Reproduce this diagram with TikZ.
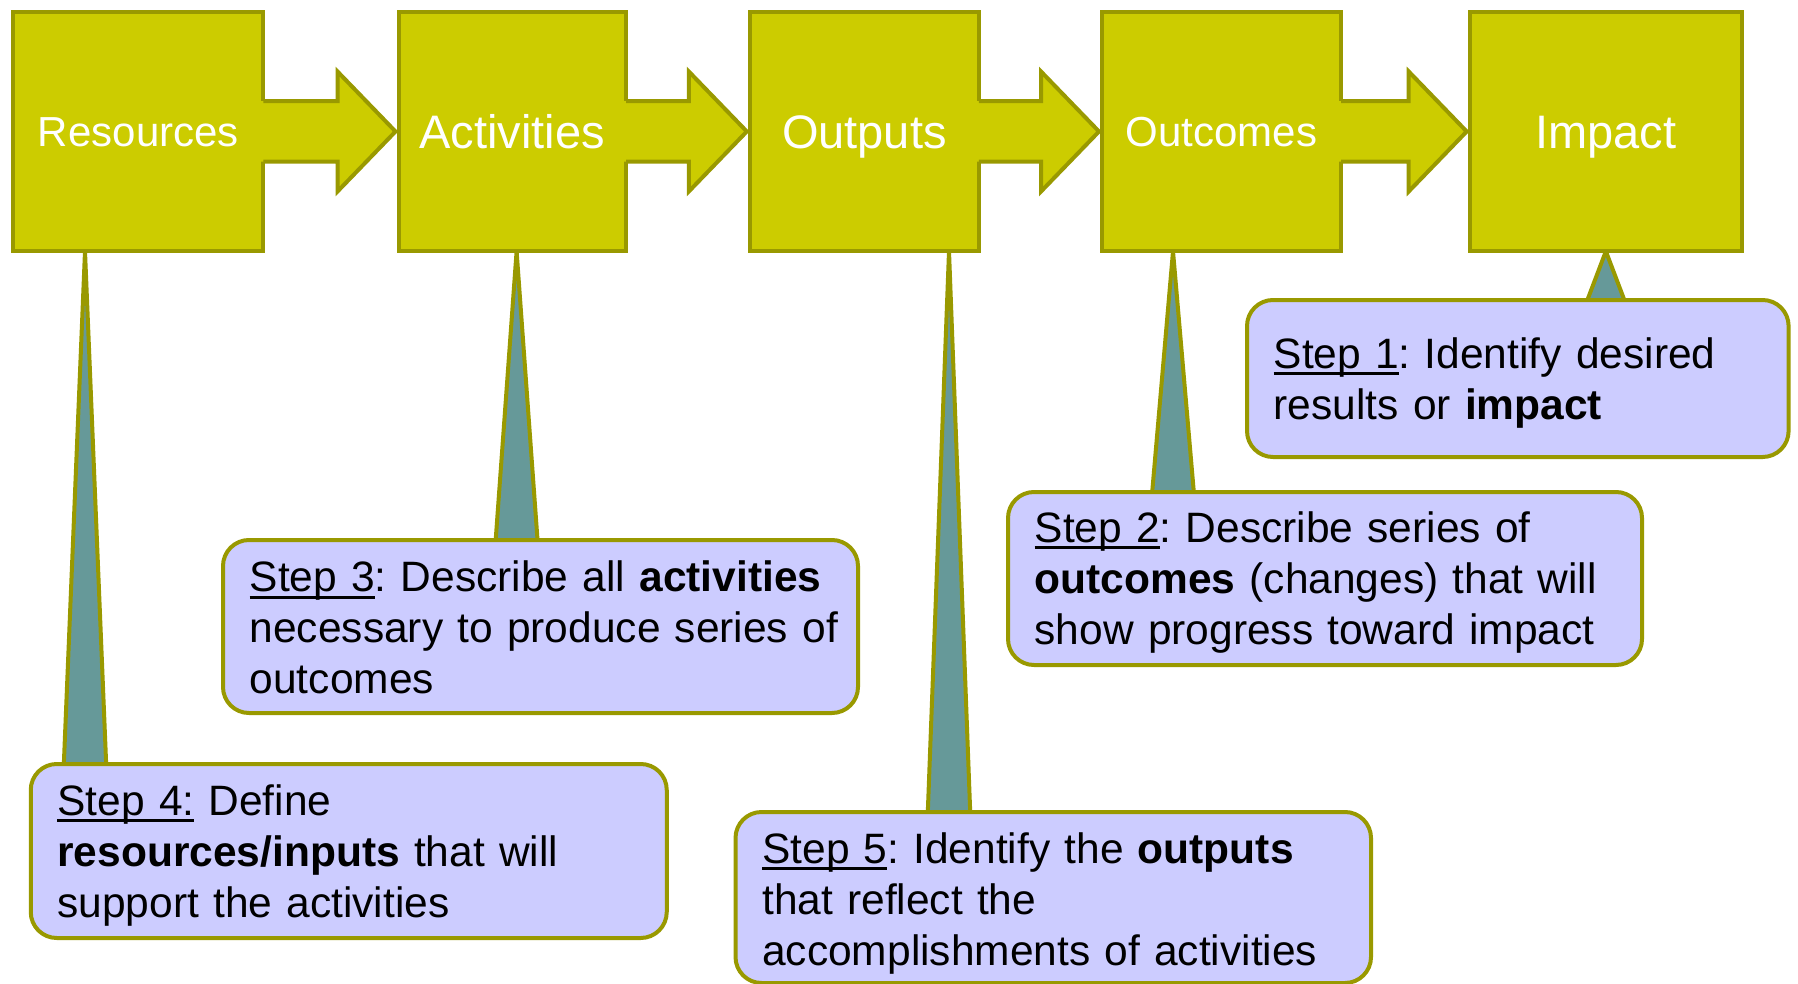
\documentclass[tikz,border=0pt]{standalone}
\usepackage{fontspec}
\setmainfont{Liberation Sans}
\usetikzlibrary{backgrounds}
\definecolor{boxfill}{HTML}{CCCC00}
\definecolor{oline}{HTML}{999900}
\definecolor{callfill}{HTML}{CCCCFF}
\definecolor{ptrfill}{HTML}{669999}
\newcommand\ulx[1]{\setbox0=\hbox{#1}\rlap{\rule[-7pt]{\wd0}{3pt}}\box0\relax}
\begin{document}
\begin{tikzpicture}[x=1pt,y=-1pt,
  stagebox/.style={draw=oline, fill=boxfill, line width=4pt, outer sep=0pt, inner sep=0pt, text=white, text depth=0pt, minimum height=239.5pt},
  bigl/.style={font=\fontsize{47}{56}\selectfont, text height=33.6pt},
  smalll/.style={font=\fontsize{42}{50}\selectfont, text height=30pt},
  callbox/.style={draw=oline, fill=callfill, line width=4pt, rounded corners=26pt, outer sep=0pt, inner sep=0pt},
  calltext/.style={anchor=base west, inner sep=0pt, text width=620pt, align=left, font=\fontsize{42.5}{51}\selectfont\frenchspacing},
  ptr/.style={draw=oline, fill=ptrfill, line width=4pt},
  arrfill/.style={fill=boxfill},
  arrline/.style={draw=oline, line width=4pt}
]
\useasboundingbox (0,0) rectangle (1798,984);

% stage boxes
\node[stagebox, smalll, minimum width=250.1pt] (res)  at (138.35,131.5) {Resources};
\node[stagebox, bigl,   minimum width=227.5pt] (act)  at (512.25,131.5) {Activities};
\node[stagebox, bigl,   minimum width=229pt]   (out)  at (864.3,131.5)  {Outputs};
\node[stagebox, smalll, minimum width=239pt]   (outc) at (1221.5,131.5) {Outcomes};
\node[stagebox, bigl,   minimum width=272.3pt] (imp)  at (1605.85,131.5) {Impact};

% block arrows between stages
\foreach \a/\b in {res/act, act/out, out/outc, outc/imp}{
  \fill[arrfill] ([xshift=-3pt,yshift=30.25pt]\a.east) -- ([xshift=-61pt,yshift=30.25pt]\b.west)
    -- ([xshift=-61pt,yshift=60pt]\b.west) -- ([xshift=-3pt]\b.west)
    -- ([xshift=-61pt,yshift=-60pt]\b.west) -- ([xshift=-61pt,yshift=-30.25pt]\b.west)
    -- ([xshift=-3pt,yshift=-30.25pt]\a.east) -- cycle;
  \draw[arrline] ([yshift=30.25pt]\a.east) -- ([xshift=-61pt,yshift=30.25pt]\b.west)
    -- ([xshift=-61pt,yshift=60pt]\b.west) -- ([xshift=-3pt]\b.west)
    -- ([xshift=-61pt,yshift=-60pt]\b.west) -- ([xshift=-61pt,yshift=-30.25pt]\b.west)
    -- ([yshift=-30.25pt]\a.east);
}

% callouts
\node[callbox, minimum width=541.6pt, minimum height=157pt] (s1) at (1517.8,378.5) {};
\node[callbox, minimum width=634pt,   minimum height=173pt] (s2) at (1325,578.5) {};
\node[callbox, minimum width=635pt,   minimum height=173pt] (s3) at (540.5,626.5) {};
\node[callbox, minimum width=636pt,   minimum height=174pt] (s4) at (348.75,851) {};
\node[callbox, minimum width=635.5pt, minimum height=171pt] (s5) at (1053.25,897.5) {};

\node[calltext] (t1) at ([xshift=26.5pt,yshift=-68pt]s1.north west)
  {\ulx{Step 1}: Identify desired\\ results or \textbf{impact}};
\node[calltext] (t2) at ([xshift=26.5pt,yshift=-50pt]s2.north west)
  {\ulx{Step 2}: Describe series of\\ \textbf{outcomes} (changes) that will\\ show progress toward impact};
\node[calltext] (t3) at ([xshift=26.5pt,yshift=-51.7pt]s3.north west)
  {\ulx{Step 3}: Describe all \textbf{activities}\\ necessary to produce series of\\ outcomes};
\node[calltext] (t4) at ([xshift=26.5pt,yshift=-51pt]s4.north west)
  {\ulx{Step 4:} Define\\ \textbf{resources/inputs} that will\\ support the activities};
\node[calltext] (t5) at ([xshift=26.5pt,yshift=-51pt]s5.north west)
  {\ulx{Step 5}: Identify the \textbf{outputs}\\ that reflect the\\ accomplishments of activities};

% callout pointers (behind)
\begin{pgfonlayer}{background}
  \coordinate (a1) at (imp.south);
  \coordinate (a2) at ([xshift=-48.5pt]outc.south);
  \coordinate (a3) at ([xshift=4.35pt]act.south);
  \coordinate (a4) at ([xshift=-53.35pt]res.south);
  \coordinate (a5) at ([xshift=84.7pt]out.south);
  \foreach \i in {1,...,5}{
    \coordinate (b\i) at (a\i |- s\i.north);
    \draw[ptr] (a\i) -- ([xshift=-21.5pt,yshift=-8pt]b\i) -- ([xshift=21.5pt,yshift=-8pt]b\i) -- cycle;
  }
\end{pgfonlayer}
\end{tikzpicture}
\end{document}
